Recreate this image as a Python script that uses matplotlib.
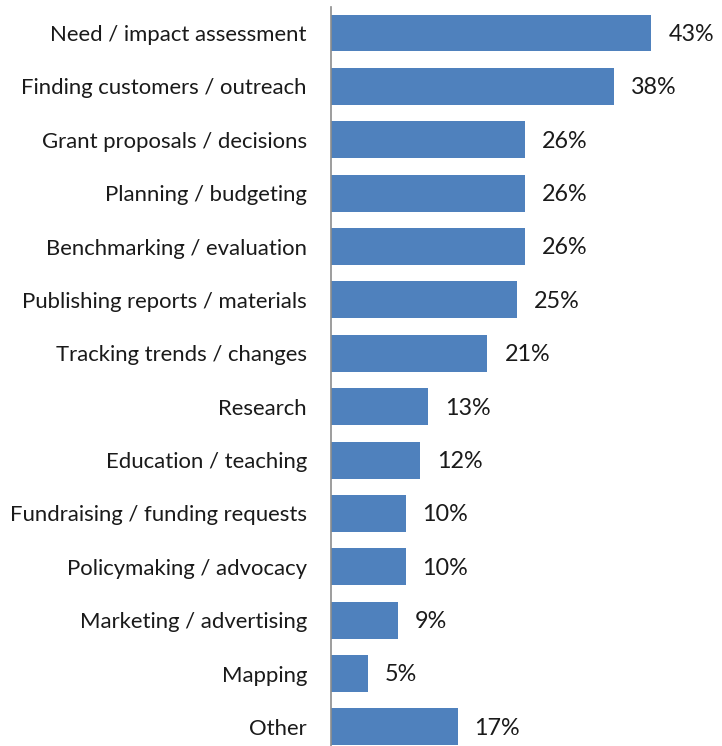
import matplotlib
matplotlib.use("Agg")
import matplotlib.pyplot as plt

categories = [
    "Need / impact assessment",
    "Finding customers / outreach",
    "Grant proposals / decisions",
    "Planning / budgeting",
    "Benchmarking / evaluation",
    "Publishing reports / materials",
    "Tracking trends / changes",
    "Research",
    "Education / teaching",
    "Fundraising / funding requests",
    "Policymaking / advocacy",
    "Marketing / advertising",
    "Mapping",
    "Other",
]
values = [43, 38, 26, 26, 26, 25, 21, 13, 12, 10, 10, 9, 5, 17]

W, H, DPI = 722, 746, 100
fig = plt.figure(figsize=(W / DPI, H / DPI), dpi=DPI)
plt.rcParams["font.family"] = ["Lato", "DejaVu Sans"]

left_px, top_px, bottom_px = 331, 7, 746
px_per_unit = 7.45
xmax = 50
ax = fig.add_axes([left_px / W, 1 - bottom_px / H,
                   xmax * px_per_unit / W, (bottom_px - top_px) / H])

pos = list(range(len(categories)))
ax.barh(pos, values, height=0.693, color="#4F81BD", zorder=2)
ax.set_xlim(0, xmax)
ax.set_ylim(len(categories) - 1 + 0.356, -0.487)

ax.set_yticks(pos)
ax.set_yticklabels(categories, fontsize=15.9, color="#1a1a1a")
ax.tick_params(axis="y", length=0, pad=17.3)
ax.set_xticks([])

for s in ["top", "right", "bottom"]:
    ax.spines[s].set_visible(False)
ax.spines["left"].set_color("#8c8c8c")
ax.spines["left"].set_linewidth(1.2)

for p, v in zip(pos, values):
    ax.annotate(f"{v}%", xy=(v, p), xytext=(12.2, -1.0), textcoords="offset points",
                va="center", ha="left", fontsize=16.8, color="#1a1a1a")

fig.savefig("out.png", dpi=DPI)
